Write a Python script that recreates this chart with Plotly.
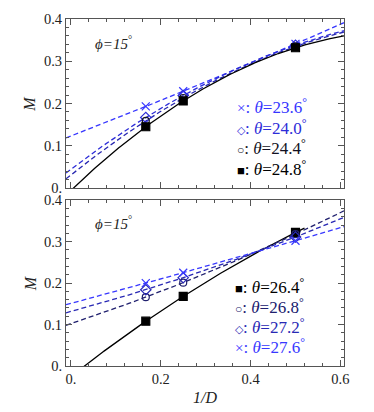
import numpy as np
import plotly.graph_objects as go
from plotly.subplots import make_subplots

# ---- data ----
inv_D = [1/6, 1/4, 1/2]

top_thetas = ["23.6", "24.0", "24.4", "24.8"]
top_M = [
    [0.193, 0.229, 0.341],   # theta 23.6 (x)
    [0.167, 0.219, 0.338],   # theta 24.0 (diamond)
    [0.159, 0.213, 0.335],   # theta 24.4 (circle)
    [0.145, 0.206, 0.332],   # theta 24.8 (square)
]
bot_thetas = ["26.4", "26.8", "27.2", "27.6"]
bot_M = [
    [0.108, 0.168, 0.322],   # theta 26.4 (square)
    [0.166, 0.201, 0.318],   # theta 26.8 (circle)
    [0.184, 0.213, 0.311],   # theta 27.2 (diamond)
    [0.200, 0.225, 0.302],   # theta 27.6 (x)
]
x_ticks = [0, 0.2, 0.4, 0.6]
x_ticklabels = ["0.", "0.2", "0.4", "0.6"]
y_ticks = [0, 0.1, 0.2, 0.3, 0.4]
y_ticklabels = ["0.", "0.1", "0.2", "0.3", "0.4"]

# ---- styles ----
FONT = "Liberation Serif, Times New Roman, serif"
top_style = [
    dict(symbol="x-thin-open", color="#3535ff", line="#3535ff", glyph="×", gs=15, dash=True),
    dict(symbol="diamond-open", color="#2c2cd8", line="#2c2cd8", glyph="◇", gs=11, dash=True),
    dict(symbol="circle-open", color="#111122", line="#2626b0", glyph="○", gs=12, dash=True),
    dict(symbol="square", color="#000000", line="#000000", glyph="■", gs=13, dash=False),
]
bot_style = [
    dict(symbol="square", color="#000000", line="#000000", glyph="■", gs=13, dash=False, xmax=0.52),
    dict(symbol="circle-open", color="#20206e", line="#20206e", glyph="○", gs=12, dash=True),
    dict(symbol="diamond-open", color="#2828b4", line="#2828b4", glyph="◇", gs=11, dash=True),
    dict(symbol="x-thin-open", color="#3838ff", line="#3838ff", glyph="×", gs=15, dash=True),
]

XR = [-0.011, 0.608]

fig = make_subplots(rows=2, cols=1, shared_xaxes=False, vertical_spacing=0.035)


def add_panel(row, thetas, Ms, styles):
    for th, m, st in zip(thetas, Ms, styles):
        coef = np.polyfit(inv_D, m, 2)
        xmax = st.get("xmax", XR[1])
        xs = np.linspace(XR[0], xmax, 200)
        ys = np.polyval(coef, xs)
        fig.add_trace(go.Scatter(
            x=xs, y=ys, mode="lines",
            line=dict(color=st["line"], width=1.3,
                      dash="5px,3px" if st["dash"] else "solid"),
            showlegend=False, hoverinfo="skip"), row=row, col=1)
    for th, m, st in zip(thetas, Ms, styles):
        fig.add_trace(go.Scatter(
            x=inv_D, y=m, mode="markers",
            marker=dict(symbol=st["symbol"], color=st["color"], size=8 if st["symbol"] != "circle-open" else 7,
                        line=dict(color=st["color"], width=1.2)),
            showlegend=False), row=row, col=1)


add_panel(1, top_thetas, top_M, top_style)
add_panel(2, bot_thetas, bot_M, bot_style)

axis_common = dict(
    showline=True, linecolor="#555555", linewidth=1, mirror="allticks",
    ticks="inside", ticklen=6, tickcolor="#555555", tickwidth=1,
    showgrid=False, zeroline=False, automargin=False,
    tickfont=dict(family=FONT, size=14.5, color="#222222"),
)
for r in (1, 2):
    fig.update_xaxes(row=r, col=1, range=XR, tickvals=x_ticks,
                     ticktext=x_ticklabels if r == 2 else [""] * len(x_ticks),
                     minor=dict(dtick=0.04, tick0=0, ticks="inside", ticklen=3,
                                tickcolor="#555555", showgrid=False),
                     **axis_common)
    fig.update_yaxes(row=r, col=1, range=[0, 0.4], tickvals=y_ticks,
                     ticktext=y_ticklabels,
                     minor=dict(dtick=0.02, tick0=0, ticks="inside", ticklen=3,
                                tickcolor="#555555", showgrid=False),
                     **axis_common)

# page body has an 8px margin: the figure is shifted by (8, 8)
fig.update_layout(
    width=366, height=404,
    margin=dict(l=58, r=30, t=11, b=46),
    plot_bgcolor="white", paper_bgcolor="white",
    xaxis=dict(domain=[0, 1]), xaxis2=dict(domain=[0, 1]),
    yaxis=dict(domain=[0.513, 1.0]), yaxis2=dict(domain=[0.0, 0.478]),
)

# axis titles
title_font = dict(family=FONT, size=16, color="#222222")
for yc in (0.756, 0.239):
    fig.add_annotation(x=-0.129, y=yc, xref="paper", yref="paper", text="<i>M</i>",
                       textangle=-90, showarrow=False, xanchor="center", yanchor="middle",
                       font=title_font)
fig.add_annotation(x=0.5, y=-0.092, xref="paper", yref="paper", text="<i>1/D</i>",
                   showarrow=False, xanchor="center", yanchor="middle", font=title_font)

# phi annotations
for ax in ("", "2"):
    fig.add_annotation(x=0.049, y=0.344, xref="x" + ax, yref="y" + ax,
                       text="<i>ϕ=15</i><sup>°</sup>", showarrow=False,
                       xanchor="left", yanchor="middle",
                       font=dict(family=FONT, size=15, color="#222222"))


def label(st, th):
    return (f"<span style='font-size:{st['gs']}px'>{st['glyph']}</span>: "
            f"<i>θ</i>={th}<sup>°</sup>")


# legend-like labels
top_rows = [0.194, 0.1445, 0.097, 0.0475]
for th, st, yv in zip(top_thetas, top_style, top_rows):
    fig.add_annotation(x=0.365, y=yv, xref="x", yref="y",
                       text=label(st, th), showarrow=False,
                       xanchor="left", yanchor="middle",
                       font=dict(family=FONT, size=17, color=st["color"]))
bot_rows = [0.194, 0.1438, 0.0957, 0.0476]
for th, st, yv in zip(bot_thetas, bot_style, bot_rows):
    fig.add_annotation(x=0.361, y=yv, xref="x2", yref="y2",
                       text=label(st, th), showarrow=False,
                       xanchor="left", yanchor="middle",
                       font=dict(family=FONT, size=17, color=st["color"]))

fig.write_html("out.html")
